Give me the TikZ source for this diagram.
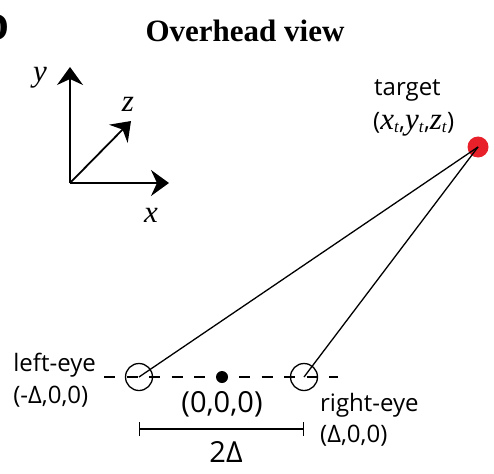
\documentclass[tikz,border=0pt]{standalone}
\usepackage{fontspec}
\setmainfont{Open Sans}
\newfontfamily\serifface{Liberation Serif}
\usetikzlibrary{arrows.meta, positioning}
\tikzset{
    eye/.style={
        circle,
        draw=black,
        line width=1.3pt,
        minimum size=27pt,
        inner sep=0pt
    },
    axis/.style={
        line width=1.8pt,
        -{Stealth[length=18pt, width=26pt, inset=6pt]}
    },
    sight/.style={
        line width=1.3pt
    },
    lbl/.style={
        font=\fontsize{24}{27}\selectfont,
        inner sep=0pt,
        align=left
    },
    axlbl/.style={
        font=\fontsize{31}{33}\selectfont\serifface\itshape,
        inner sep=0pt
    },
}
\definecolor{targetred}{RGB}{232,32,42}
\newcommand{\tsub}[1]{{\serifface\itshape\fontsize{31}{33}\selectfont #1}\textsubscript{\serifface\itshape t}}

\begin{document}
\begin{tikzpicture}[x=1pt, y=-1pt]
\useasboundingbox (0,0) rectangle (494,473);

% Panel letter and title
\node[font=\fontsize{40}{42}\selectfont\serifface\bfseries] (panel) at (-5,27) {D};
\node[font=\fontsize{31}{33}\selectfont\serifface\bfseries] (title) at (245,31) {Overhead view};

% Axes
\coordinate (ax0) at (70,183);
\coordinate (axy) at (70,67);
\coordinate (axx) at (169,183);
\coordinate (axz) at (131,121);
\draw[axis] (ax0) -- (axy);
\draw[axis] (ax0) -- (axx);
\draw[axis] (ax0) -- (axz);
\node[axlbl] (ly) at (40,78) {y};
\node[axlbl] (lz) at (128,104) {z};
\node[axlbl] (lx) at (151,215) {x};

% Target
\node[circle, fill=targetred, minimum size=21pt, inner sep=0pt] (tgt) at (478,147) {};
\node[lbl, anchor=west] (tlbl) at (374,90) {target};
\node[lbl, anchor=west] (tcoord) at (373,124) {(\tsub{x},\tsub{y},\tsub{z})};

% Eyes and origin
\coordinate (dl) at (104,377);
\coordinate (dr) at (338,377);
\draw[line width=1.3pt, dash pattern=on 11pt off 11.5pt] (dl) -- (dr);
\node[eye] (leye) at (139,377) {};
\node[eye] (reye) at (304,377) {};
\node[circle, fill=black, minimum size=12pt, inner sep=0pt] (orig) at (222,377) {};

% Lines of sight
\draw[sight] (tgt.center) -- (leye.center);
\draw[sight] (tgt.center) -- (reye.center);

% Labels
\node[lbl, anchor=east] (llbl) at (96,365) {left-eye};
\node[lbl, below=9pt of llbl.south west, anchor=north west] (lcoord) {(-Δ,0,0)};
\node[lbl, anchor=west] (rlbl) at (320,405) {right-eye};
\node[lbl, below=8pt of rlbl.south west, anchor=north west] (rcoord) {(Δ,0,0)};
\node[font=\fontsize{29}{31}\selectfont, inner sep=0pt] (olbl) at (222,404) {(0,0,0)};

% Baseline 2Delta
\draw[line width=1.3pt, {Bar[width=14pt]}-{Bar[width=14pt]}] (leye.center |- 0,429) coordinate (bl) -- (reye.center |- 0,429) coordinate (br);
\node[font=\fontsize{29}{31}\selectfont, inner sep=0pt] (blbl) at (226,452) {2Δ};

\end{tikzpicture}
\end{document}
